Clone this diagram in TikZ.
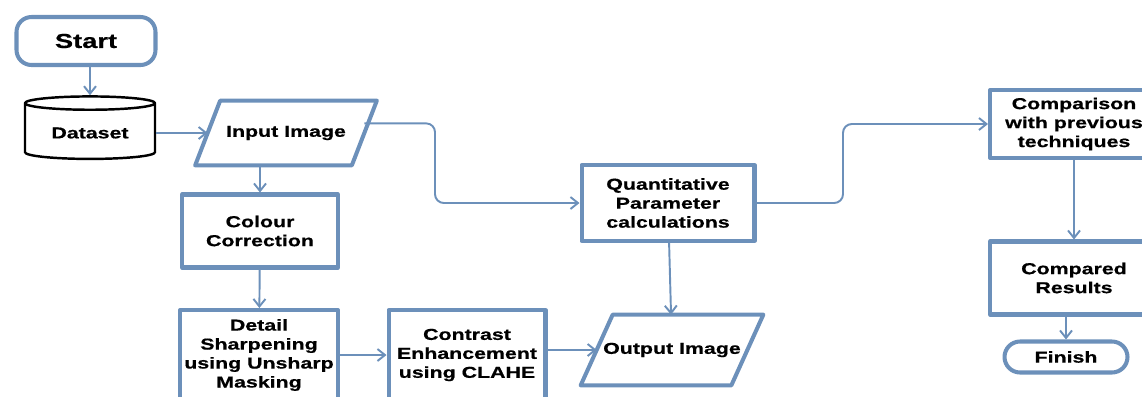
\documentclass[tikz,border=0pt]{standalone}
\usepackage{fontspec}
\setmainfont{Liberation Sans}[FakeStretch=1.35, BoldFeatures={FakeBold=0.6}]
\usetikzlibrary{shapes.geometric,arrows.meta}
\definecolor{flowblue}{HTML}{6C90BA}
\begin{document}
\begin{tikzpicture}[x=0.02cm, y=-0.02cm, font=\bfseries\fontsize{9}{10.8}\selectfont,
    line join=round, >={Straight Barb[length=1.5mm,width=2.4mm]},
    blk/.style={draw=flowblue, line width=2.3pt, fill=white, align=center, inner sep=2pt},
    proc/.style={blk, rectangle},
    term/.style={blk, rectangle, rounded corners=0.3cm},
    io/.style={rectangle, align=center, inner sep=2pt},
    ioline/.style={draw=flowblue, line width=2.3pt},
    data/.style={draw=black, line width=1.4pt, fill=white, cylinder, shape border rotate=90, aspect=0.15, minimum width=2.6cm, minimum height=1.25cm},
    arr/.style={->, draw=flowblue, line width=1.1pt}]
    \useasboundingbox (0,0) rectangle (1142,396);
    \clip (0,0) rectangle (1142,396);
    % left column
    \node[term, minimum width=2.78cm, minimum height=0.96cm, font=\bfseries\fontsize{11.5}{13}\selectfont] (start) at (86,41) {Start};
    \node[data] (dataset) at (90,133) {Dataset};
    \node[io, minimum width=3.12cm, minimum height=1.28cm] (input) at (286,133) {Input Image};
    \node[proc, minimum width=3.12cm, minimum height=1.46cm] (colour) at (260,231) {Colour\\Correction};
    \node[proc, minimum width=3.16cm, minimum height=1.8cm] (detail) at (259,355) {Detail\\Sharpening\\using Unsharp\\Masking};
    \node[proc, minimum width=3.14cm, minimum height=1.8cm] (contrast) at (467,355) {Contrast\\Enhancement\\using CLAHE};
    % middle
    \node[proc, minimum width=3.46cm, minimum height=1.52cm] (quant) at (668,203) {Quantitative\\Parameter\\calculations};
    \node[io, minimum width=3.0cm, minimum height=1.4cm] (output) at (672,350) {Output Image};
    % right column
    \node[proc, minimum width=3.36cm, minimum height=1.36cm] (comp) at (1074,124) {Comparison\\with previous\\techniques};
    \node[proc, minimum width=3.36cm, minimum height=1.46cm] (result) at (1074,278) {Compared\\Results};
    \node[term, rounded corners=0.31cm, minimum width=2.46cm, minimum height=0.62cm] (finish) at (1066,357) {Finish};
    % slanted data boxes
    \draw[ioline] ([xshift=0.25cm]input.north west) -- ([xshift=0.25cm]input.north east)
        -- ([xshift=-0.25cm]input.south east) -- ([xshift=-0.25cm]input.south west) -- cycle;
    \draw[ioline] ([xshift=0.32cm]output.north west) -- ([xshift=0.32cm]output.north east)
        -- ([xshift=-0.32cm]output.south east) -- ([xshift=-0.32cm]output.south west) -- cycle;
    \coordinate (turnA) at (435,203);
    \coordinate (turnB) at (843,124);
    % connectors
    \draw[arr] (dataset.north |- start.south) -- (dataset.north);
    \draw[arr] (dataset) -- (input);
    \draw[arr] (input.south -| colour.north) -- (colour.north);
    \draw[arr] (colour) -- (detail);
    \draw[arr] (detail) -- (contrast);
    \draw[arr] (contrast.east |- output) -- (output);
    \draw[arr] (quant) -- (output);
    \draw[arr, rounded corners=5pt] (input.7) -| (turnA) -- (quant);
    \draw[arr, rounded corners=5pt] (quant) -| (turnB) -- (comp);
    \draw[arr] (comp) -- (result);
    \draw[arr] (finish.north |- result.south) -- (finish);
\end{tikzpicture}
\end{document}
